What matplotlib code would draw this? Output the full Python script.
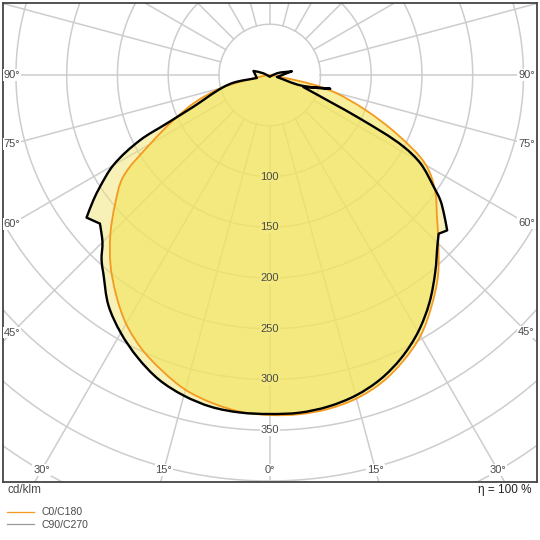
import numpy as np
import matplotlib.pyplot as plt
from matplotlib.lines import Line2D
from matplotlib.path import Path
from matplotlib.patches import PathPatch

plt.rcParams['font.family'] = ['Liberation Sans', 'DejaVu Sans']

# C0/C180 plane: gamma angle (deg, negative = C180 side) and intensity (cd/klm)
c0_gamma = [-90, -85, -80, -77, -75, -70, -65, -60, -55, -50, -45, -40, -35, -30,
            -25, -20, -15, -10, -5, 0, 5, 10, 15, 20, 25, 30, 35, 40, 45, 50,
            55, 60, 65, 70, 75, 77, 78.5, 80, 85]
c0_cd = [0, 2, 8, 31, 50, 78, 104, 136, 177, 199, 222, 244, 264, 283,
         298, 310, 321, 328, 333, 335, 335.5, 334, 330, 322.5, 311, 297, 278, 258, 235, 215,
         199, 178, 139, 100, 67, 51, 30, 8, 2]

# C90/C270 plane, traced in path order (measured contour with its spikes)
c90_gamma = [0, -105, -104, -77, -78, -75.4, -67.4, -64.8, -63.3, -60, -56.6, -54.6,
             -52.1, -48.8, -46.7, -45, -42.2, -40, -35, -30, -25, -20, -15, -10, -5,
             0, 5, 10, 15, 20, 25, 30, 35, 40, 45, 46.8, 48.8, 51.5,
             53.7, 55.7, 59.6, 61.8, 64.2, 66, 70.3, 77.2, 71.3, 74.5, 99.5, 103]
c90_cd = [1.7, 6.3, 16.5, 13, 36.5, 47.1, 81.5, 112, 143, 178, 200.4, 213.2,
          228.7, 222.3, 227.7, 233, 246.6, 255, 277, 293.4, 307.4, 319.3, 327, 332, 333.8,
          334, 334, 331.7, 327, 319, 307.3, 292.4, 274.2, 253.7, 234, 228.4, 232.4, 219.3,
          208.7, 195.7, 172.3, 150, 99.2, 66, 35.1, 61.2, 31.8, 7.4, 22.2, 7.3]

ring_values = [50 * k for k in range(1, 21)]
ring_labels = [100, 150, 200, 250, 300, 350]
spoke_angles = np.arange(0, 360, 15)
side_labels = [90, 75, 60, 45]
bottom_labels = [-30, -15, 0, 15, 30]

orange = '#f39a1f'
grid_col = '#cdcdcd'
text_col = '#4a4a4a'
fill_mix = '#f5ea80'


def to_xy(gamma, cd):
    g = np.radians(np.asarray(gamma, dtype=float))
    r = np.asarray(cd, dtype=float)
    return r * np.sin(g), -r * np.cos(g)


def smooth_closed_path(x, y, corner_deg=45):
    """Closed path through the points, drawn with Bezier segments;
    sharp turns (spikes) are kept as corners."""
    P = np.column_stack([x, y])
    n = len(P)
    tang = np.zeros_like(P)
    for i in range(n):
        a, b, c = P[i - 1], P[i], P[(i + 1) % n]
        v1, v2 = b - a, c - b
        l1, l2 = np.hypot(*v1), np.hypot(*v2)
        if l1 < 1e-9 or l2 < 1e-9:
            continue
        cosang = np.dot(v1, v2) / (l1 * l2)
        if np.degrees(np.arccos(np.clip(cosang, -1, 1))) > corner_deg:
            continue
        t = v1 / l1 + v2 / l2
        tang[i] = t / np.hypot(*t)
    verts = [P[0]]
    codes = [Path.MOVETO]
    for i in range(n):
        p0, p1 = P[i], P[(i + 1) % n]
        seg = p1 - p0
        d = np.hypot(*seg)
        if d < 1e-9:
            continue
        u0 = tang[i] if tang[i].any() else seg / d
        u1 = tang[(i + 1) % n] if tang[(i + 1) % n].any() else seg / d
        verts += [p0 + u0 * d / 3, p1 - u1 * d / 3, p1]
        codes += [Path.CURVE4] * 3
    verts.append(P[0])
    codes.append(Path.CLOSEPOLY)
    return Path(verts, codes)


fig = plt.figure(figsize=(5.4, 5.4), dpi=100)
ax = fig.add_axes([3 / 540, 1 - 482 / 540, 534 / 540, 479 / 540])
px = 1.015  # pixels per cd/klm
cx, cy = 269.7, 75.0
ax.set_xlim((3 - cx) / px, (537 - cx) / px)
ax.set_ylim(-(482 - cy) / px, (cy - 3) / px)
ax.set_xticks([])
ax.set_yticks([])
for s in ax.spines.values():
    s.set_color('#444444')
    s.set_linewidth(1.3)

# grid
t = np.linspace(0, 2 * np.pi, 400)
for rv in ring_values:
    ax.plot(rv * np.cos(t), rv * np.sin(t), color=grid_col, lw=1.1, zorder=1)
for a in spoke_angles:
    xs, ys = to_xy([a, a], [50, 1000])
    ax.plot(xs, ys, color=grid_col, lw=1.1, zorder=1)

# curves
path90 = smooth_closed_path(*to_xy(c90_gamma, c90_cd))
path0 = smooth_closed_path(*to_xy(c0_gamma, c0_cd))
ax.add_patch(PathPatch(path90, facecolor='#f1e371', alpha=0.5, lw=0, zorder=2))
ax.add_patch(PathPatch(path0, facecolor='#f3e55b', alpha=0.6, lw=0, zorder=3))
ax.add_patch(PathPatch(path0, facecolor='none', edgecolor=orange, lw=1.3, zorder=4))
ax.add_patch(PathPatch(path90, facecolor='none', edgecolor='black', lw=1.7, zorder=5,
                       joinstyle='round'))

# ring labels
for rv in ring_labels:
    bg = fill_mix if rv < 330 else 'white'
    ax.text(0, -rv, str(rv), ha='center', va='center', fontsize=8,
            color=text_col, zorder=6,
            bbox=dict(facecolor=bg, edgecolor='none', pad=0.4))

# angle labels
xl = (12 - cx) / px
xr = (526.5 - cx) / px
yb = -(470 - cy) / px
for a in side_labels:
    for xe in (xl, xr):
        ye = -abs(xe) / np.tan(np.radians(a)) if a != 90 else 0
        ax.text(xe, ye, f'{a}°', ha='center', va='center', fontsize=8,
                color=text_col, zorder=6,
                bbox=dict(facecolor='white', edgecolor='none', pad=0.6))
for a in bottom_labels:
    xe = -yb * np.tan(np.radians(a))
    ax.text(xe, yb, f'{abs(a)}°', ha='center', va='center', fontsize=8,
            color=text_col, zorder=6,
            bbox=dict(facecolor='white', edgecolor='none', pad=0.6))

fig.text(8 / 540, 1 - 490 / 540, 'cd/klm', ha='left', va='center', fontsize=8.5, color=text_col)
fig.text(531 / 540, 1 - 490 / 540, 'η = 100 %', ha='right', va='center', fontsize=8.5, color='#222222')

handles = [Line2D([], [], color=orange, lw=0.9), Line2D([], [], color='#9a9a9a', lw=0.9)]
fig.legend(handles, ['C0/C180', 'C90/C270'], loc='upper left',
           bbox_to_anchor=(2 / 540, 1 - 502 / 540), frameon=False, fontsize=7.5,
           handlelength=2.6, handletextpad=0.7, labelspacing=0.25, borderpad=0,
           labelcolor=text_col)

fig.savefig('out.png', dpi=100)
